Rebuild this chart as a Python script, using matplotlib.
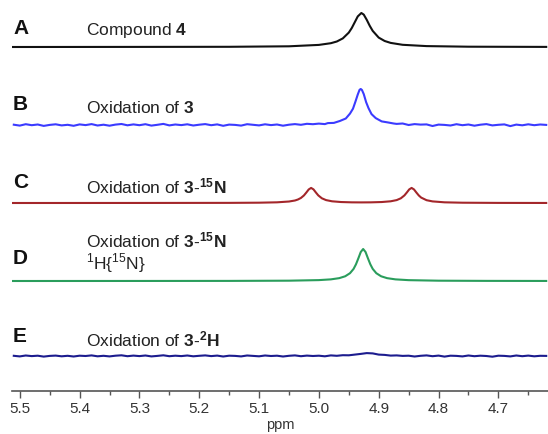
import numpy as np
import matplotlib.pyplot as plt
from matplotlib.ticker import MultipleLocator

plt.rcParams['font.family'] = ['Liberation Sans', 'DejaVu Sans']
plt.rcParams['mathtext.fontset'] = 'custom'
plt.rcParams['mathtext.rm'] = 'Liberation Sans'
plt.rcParams['mathtext.bf'] = 'Liberation Sans:bold'

# ---- data (heights in pixel-like units above each trace's baseline) ----
panel_letters = ['A', 'B', 'C', 'D', 'E']
panel_titles = [r'Compound $\mathbf{4}$',
                r'Oxidation of $\mathbf{3}$',
                r'Oxidation of $\mathbf{3}$-$\mathbf{^{15}N}$',
                'Oxidation of $\\mathbf{3}$-$\\mathbf{^{15}N}$\n$^{1}$H{$^{15}$N}',
                r'Oxidation of $\mathbf{3}$-$\mathbf{^{2}H}$']
trace_colors = ['#111111', '#3b3bff', '#a3262a', '#2a9d5c', '#1c1c8e']
baselines = [47, 125, 203, 281, 356]

a_ppm = [5.513, 5.30, 5.15, 5.05, 5.00, 4.98, 4.97, 4.96, 4.95, 4.945, 4.94, 4.935,
         4.929, 4.925, 4.92, 4.915, 4.91, 4.90, 4.89, 4.88, 4.86, 4.82, 4.75, 4.62]
a_val = [0.0, 0.1, 0.2, 0.7, 2.1, 3.8, 5.5, 8.6, 14.4, 19.0, 24.8, 30.6,
         34.0, 32.4, 27.2, 21.2, 16.1, 9.4, 6.0, 4.1, 2.2, 0.9, 0.3, 0.1]

# B: noisy baseline on a 0.01 ppm grid plus the peak region
grid_ppm = np.round(np.arange(5.51, 4.615, -0.01), 3)
b_noise = [0.3, -0.6, 0.8, -0.2, 0.5, -0.9, 0.1, 0.7, -0.4, 0.2,
           -0.8, 0.6, -0.1, 0.9, -0.5, 0.3, -0.7, 0.4, 1.0, -0.3,
           0.6, -0.2, 0.8, -0.6, 0.2, 1.1, -0.4, 0.5, -0.1, 0.7,
           -0.5, 0.3, 0.9, -0.2, 0.6, -0.8, 0.4, 0.1, -0.6, 0.8,
           0.2, -0.4, 0.7, -0.1, 0.5, -0.7, 0.3, 0.9, 0.2, 1.2,
           0.8, 1.4, 0.9, 0.8, -0.2, 0.3, -0.9, 0.5, 0.1, -0.4,
           0.7, -0.6, 0.2, 0.9, 1.1, 1.5, 0.0, 0.9, 0.4, 0.6,
           -1.0, 0.4, 0.1, -0.5, 0.8, -0.2, 0.5, -0.7, 0.3, 0.9,
           -0.4, 0.2, 0.6, -1.1, 0.4, -0.3, 0.7, -0.2, 0.5, 0.1]
b_peak_ppm = [4.985, 4.975, 4.965, 4.955, 4.948, 4.943, 4.939, 4.935, 4.932, 4.930,
              4.928, 4.925, 4.921, 4.917, 4.912, 4.905, 4.895, 4.885, 4.875]
b_peak_val = [1.9, 2.1, 4.0, 6.5, 11.4, 16.3, 23.2, 30.5, 35.2, 36.0,
              35.0, 30.9, 22.8, 16.8, 10.9, 6.9, 3.6, 2.6, 1.5]

c_ppm = [5.513, 5.30, 5.15, 5.10, 5.07, 5.05, 5.04, 5.035, 5.03, 5.025, 5.021, 5.017,
         5.013, 5.009, 5.005, 5.001, 4.995, 4.988, 4.978, 4.963, 4.945, 4.929, 4.913,
         4.895, 4.88, 4.87, 4.863, 4.857, 4.853, 4.849, 4.845, 4.841, 4.837, 4.833,
         4.829, 4.82, 4.81, 4.79, 4.76, 4.70, 4.62]
c_val = [0.0, 0.05, 0.13, 0.31, 0.68, 1.48, 2.5, 3.5, 5.05, 7.55, 10.45, 13.55,
         15.07, 13.6, 10.5, 7.6, 4.7, 2.9, 1.7, 0.97, 0.66, 0.6, 0.66,
         0.97, 1.7, 2.9, 4.7, 7.6, 10.5, 13.6, 15.07, 13.55, 10.45, 7.55,
         5.4, 2.8, 1.6, 0.68, 0.29, 0.1, 0.04]

d_ppm = [5.513, 5.30, 5.15, 5.05, 5.00, 4.98, 4.966, 4.956, 4.948, 4.942, 4.938, 4.934,
         4.930, 4.926, 4.922, 4.918, 4.914, 4.910, 4.904, 4.896, 4.886, 4.872, 4.85,
         4.80, 4.72, 4.62]
d_val = [0.0, 0.04, 0.1, 0.32, 0.89, 1.63, 2.85, 4.73, 7.8, 12.1, 16.7, 22.7,
         29.0, 32.0, 29.0, 22.7, 16.7, 12.1, 7.8, 4.73, 2.85, 1.63, 0.84,
         0.31, 0.12, 0.05]

e_val = [0.2, -0.4, 0.5, -0.1, 0.3, -0.6, 0.1, 0.4, -0.3, 0.2,
         -0.5, 0.3, 0.0, 0.6, -0.3, 0.2, -0.4, 0.3, 0.7, -0.2,
         0.4, -0.1, 0.5, -0.4, 0.1, 0.7, -0.2, 0.3, -0.1, 0.5,
         -0.3, 0.2, 0.6, -0.1, 0.4, -0.5, 0.3, 0.1, -0.4, 0.5,
         0.1, -0.3, 0.5, 0.0, 0.3, -0.5, 0.2, 0.6, -0.2, 0.4,
         0.0, 0.3, -0.3, 0.6, 0.2, 0.8, 0.7, 1.4, 2.1, 2.9,
         2.6, 1.4, 1.1, 0.4, 0.6, 0.1, 0.3, -0.5, 0.2, 0.6,
         -0.2, 0.4, -0.6, 0.3, 0.1, -0.4, 0.5, -0.2, 0.3, 0.0,
         -0.7, 0.3, 0.1, -0.4, 0.5, -0.2, 0.4, -0.3, 0.2, 0.1]

xticks = [5.5, 5.4, 5.3, 5.2, 5.1, 5.0, 4.9, 4.8, 4.7]

# assemble trace B (noise outside the peak window, peak points inside)
b_noise = np.array(b_noise)
keep = (grid_ppm > 4.986) | (grid_ppm < 4.874)
b_x = np.concatenate([grid_ppm[keep], b_peak_ppm])
b_y = np.concatenate([b_noise[keep], b_peak_val])
order = np.argsort(-b_x)
b_x, b_y = b_x[order], b_y[order]

traces = [(a_ppm, a_val), (b_x, b_y), (c_ppm, c_val), (d_ppm, d_val), (grid_ppm, e_val)]

W, H = 548, 434
fig = plt.figure(figsize=(W / 100, H / 100), dpi=100)
ax = fig.add_axes([12 / W, (H - 391) / H, 1 - 12 / W, 391 / H])

for (x, y), base, col in zip(traces, baselines, trace_colors):
    ax.plot(x, -base + np.array(y), color=col, lw=1.5, solid_joinstyle='round')

ax.set_xlim(5.513, 4.617)
ax.set_ylim(-391, 0)
for s in ['top', 'left', 'right']:
    ax.spines[s].set_visible(False)
ax.spines['bottom'].set_color('#555555')
ax.spines['bottom'].set_linewidth(1.2)
ax.set_yticks([])
ax.set_xticks(xticks)
ax.set_xticklabels([f'{t:.1f}' for t in xticks])
ax.xaxis.set_minor_locator(MultipleLocator(0.05))
ax.tick_params(axis='x', which='major', length=5, width=1, color='#555555',
               labelsize=11, labelcolor='#333333', pad=3)
ax.tick_params(axis='x', which='minor', length=3, width=1, color='#555555')
ax.set_xlabel('ppm', fontsize=10.5, color='#333333', labelpad=1)
ax.patch.set_alpha(0)

# panel letters and captions
letter_y = [29, 105, 183, 259, 336]
title_y = [31, 108, 186, 253, 339]
for lab, ttl, ly, ty in zip(panel_letters, panel_titles, letter_y, title_y):
    fig.text(13 / W, 1 - ly / H, lab, fontsize=15, fontweight='bold',
             color='#111111', va='center', ha='left')
    fig.text(86 / W, 1 - ty / H, ttl, fontsize=12.5, color='#222222',
             va='center', ha='left', linespacing=1.05)

fig.savefig('out.png', dpi=100)
